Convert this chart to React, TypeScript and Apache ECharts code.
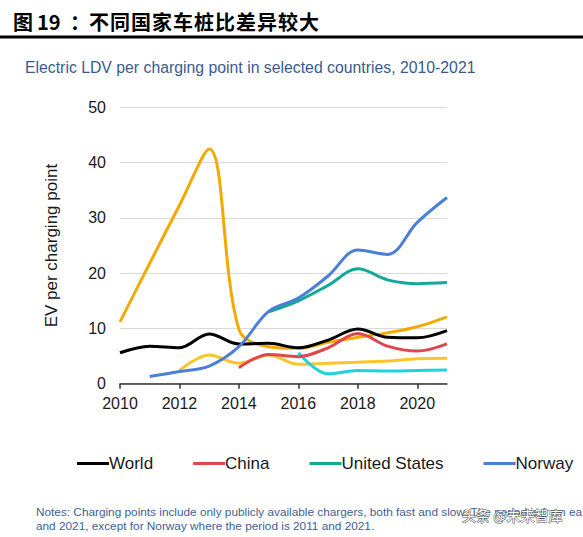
import React, { useEffect, useRef } from "react";
import * as echarts from "echarts";

const years = [2010, 2011, 2012, 2013, 2014, 2015, 2016, 2017, 2018, 2019, 2020, 2021];
const xTicks = [2010, 2012, 2014, 2016, 2018, 2020];

const world = [5.6, 6.8, 6.5, 9.0, 7.2, 7.3, 6.5, 7.9, 9.9, 8.4, 8.3, 9.6];
const china = [null, null, null, null, 2.9, 5.3, 4.9, 6.5, 9.1, 6.8, 5.9, 7.2];
const unitedStates = [null, null, null, null, null, 13.0, 15.0, 17.8, 20.8, 18.8, 18.1, 18.3];
const norway = [null, 1.3, 2.2, 3.2, 6.7, 13.1, 15.5, 19.5, 24.2, 23.4, 29.2, 33.7];
const seriesE = [11.2, 21.8, 32.3, 42.5, 9.8, 6.7, 6.4, 7.5, 8.4, 9.2, 10.3, 12.1];
const seriesF = [null, null, 2.4, 5.2, 3.7, 5.2, 3.5, 3.7, 3.9, 4.1, 4.5, 4.6];
const seriesG = [null, null, null, null, null, null, 5.6, 1.8, 2.4, 2.3, 2.4, 2.5];

const legendNames = ["World", "China", "United States", "Norway"];

const titleChars = ["不", "同", "国", "家", "车", "桩", "比", "差", "异", "较", "大"];

const FONT = '"Liberation Sans", Arial, sans-serif';
const CJK = '"Noto Sans CJK SC"';

function pairs(vals: (number | null)[]) {
  return years.map((y, i) => [y, vals[i]]);
}

export default function App() {
  const ref = useRef<HTMLDivElement>(null);
  useEffect(() => {
    if (!ref.current) return;
    const chart = echarts.init(ref.current, undefined, { renderer: "svg" });
    const mk = (name: string, vals: (number | null)[], color: string) => ({
      name,
      type: "line",
      data: pairs(vals),
      smooth: 0.35,
      showSymbol: false,
      connectNulls: false,
      lineStyle: { color, width: 3 },
      itemStyle: { color },
    });
    const titleFont = `bold 20px ${CJK}`;
    const titleEls: any[] = [
      { type: "text", x: 13, y: 21, style: { text: "图", font: titleFont, fill: "#000", verticalAlign: "middle" } },
      { type: "text", x: 37, y: 21, style: { text: "19", font: titleFont, fill: "#000", verticalAlign: "middle" } },
      { type: "text", x: 70, y: 21, style: { text: "：", font: titleFont, fill: "#000", verticalAlign: "middle" } },
      ...titleChars.map((c, i) => ({
        type: "text",
        x: 89 + i * 21,
        y: 21,
        style: { text: c, font: titleFont, fill: "#000", verticalAlign: "middle" },
      })),
    ];
    chart.setOption({
      animation: false,
      backgroundColor: "#ffffff",
      grid: { left: 120, right: 136, top: 107.5, bottom: 153.3, containLabel: false },
      legend: {
        data: legendNames,
        left: 77,
        top: 455,
        padding: 0,
        icon: "rect",
        itemWidth: 32,
        itemHeight: 3,
        itemGap: 40,
        textStyle: { fontFamily: FONT, fontSize: 17, color: "#1a1a1a", padding: [0, 0, 0, -5] },
      },
      xAxis: {
        type: "value",
        min: 2010,
        max: 2021,
        interval: 2,
        axisLine: { show: true, lineStyle: { color: "#333", width: 1.5 } },
        axisTick: { show: true, length: 5, customValues: xTicks, lineStyle: { color: "#333", width: 1.5 } },
        axisLabel: {
          customValues: xTicks,
          formatter: (v: number) => String(v),
          fontFamily: FONT,
          fontSize: 16,
          color: "#1a1a1a",
          margin: 12,
        },
        splitLine: { show: false },
      },
      yAxis: {
        type: "value",
        min: 0,
        max: 50,
        interval: 10,
        name: "EV per charging point",
        nameLocation: "middle",
        nameGap: 60,
        nameTextStyle: { fontFamily: FONT, fontSize: 17, color: "#1a1a1a" },
        axisLine: { show: false },
        axisTick: { show: false },
        axisLabel: { fontFamily: FONT, fontSize: 16, color: "#1a1a1a", margin: 14 },
        splitLine: { lineStyle: { color: "#d9d9d9", width: 1.2 } },
      },
      series: [
        mk("European Union", seriesE, "#f2aa00"),
        mk("Netherlands", seriesF, "#fbc52a"),
        mk("Korea", seriesG, "#1fd3db"),
        mk("United States", unitedStates, "#13a898"),
        mk("China", china, "#e0474c"),
        mk("World", world, "#000000"),
        mk("Norway", norway, "#4a7fd6"),
      ],
      graphic: [
        ...titleEls,
        { type: "rect", shape: { x: 0, y: 35.5, width: 583, height: 3 }, style: { fill: "#000" } },
        {
          type: "text",
          x: 25,
          y: 67,
          style: {
            text: "Electric LDV per charging point in selected countries, 2010-2021",
            font: `15.8px ${FONT}`,
            fill: "#3b5a8e",
            verticalAlign: "middle",
          },
        },
        {
          type: "text",
          x: 36,
          y: 512,
          style: {
            text: "Notes: Charging points include only publicly available chargers, both fast and slow. The period is from ea",
            font: `11.8px ${FONT}`,
            fill: "#3d5f96",
            verticalAlign: "middle",
          },
        },
        {
          type: "text",
          x: 36,
          y: 526,
          style: {
            text: "and 2021, except for Norway where the period is 2011 and 2021.",
            font: `11.8px ${FONT}`,
            fill: "#3d5f96",
            verticalAlign: "middle",
          },
        },
        {
          type: "text",
          x: 462,
          y: 515,
          style: {
            text: "头条 @未来智库",
            font: `14px ${CJK}`,
            fill: "#ffffff",
            stroke: "#555555",
            lineWidth: 1,
            verticalAlign: "middle",
          },
        },
      ],
    });
    return () => chart.dispose();
  }, []);
  return (
    <div
      ref={ref}
      style={{ position: "fixed", left: 0, top: 0, width: 583, height: 537, background: "#fff" }}
    />
  );
}
